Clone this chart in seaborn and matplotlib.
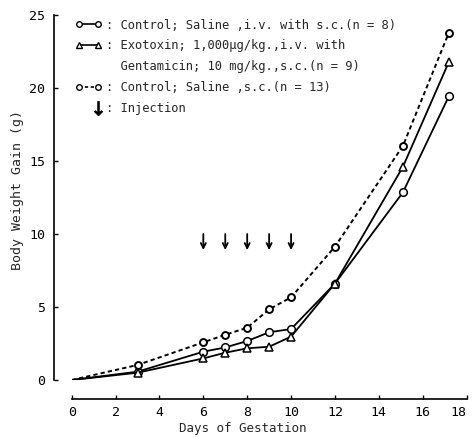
import matplotlib
matplotlib.use("Agg")
import matplotlib.pyplot as plt
from matplotlib.lines import Line2D
import seaborn as sns
import pandas as pd

# days of gestation and body weight gain (g)
days_iv = [0, 3, 6, 7, 8, 9, 10, 12, 15.1, 17.2]
gain_control_iv = [0, 0.57, 1.94, 2.23, 2.67, 3.27, 3.49, 6.6, 12.85, 19.45]

days_exo = [0, 3, 6, 7, 8, 9, 10, 12, 15.1, 17.2]
gain_exotoxin = [0, 0.5, 1.48, 1.87, 2.17, 2.28, 2.97, 6.6, 14.6, 21.8]

days_sc = [0, 3, 6, 7, 8, 9, 10, 12, 15.1, 17.2]
gain_control_sc = [0, 1.03, 2.58, 3.1, 3.58, 4.84, 5.66, 9.13, 16.03, 23.8]

injection_days = [6, 7, 8, 9, 10]
x_ticks = [0, 2, 4, 6, 8, 10, 12, 14, 16, 18]
y_ticks = [0, 5, 10, 15, 20, 25]

sns.set_style("ticks")
plt.rcParams['font.family'] = ['DejaVu Sans Mono', 'DejaVu Sans']

fig = plt.figure(figsize=(4.72, 4.38), dpi=100)
ax = fig.add_axes([0.152, 0.1324, 0.841, 0.8334])

df_iv = pd.DataFrame({'day': days_iv, 'gain': gain_control_iv})
df_exo = pd.DataFrame({'day': days_exo, 'gain': gain_exotoxin})
df_sc = pd.DataFrame({'day': days_sc, 'gain': gain_control_sc})

sns.lineplot(data=df_iv, x='day', y='gain', ax=ax, color='black', lw=1.3,
             marker='o', markersize=5.5, markerfacecolor='white',
             markeredgecolor='black', markeredgewidth=1.1,
             markevery=list(range(1, len(days_iv))))
sns.lineplot(data=df_exo, x='day', y='gain', ax=ax, color='black', lw=1.3,
             marker='^', markersize=6, markerfacecolor='white',
             markeredgecolor='black', markeredgewidth=1.1,
             markevery=list(range(1, len(days_exo))))
sns.lineplot(data=df_sc, x='day', y='gain', ax=ax, color='black', lw=1.4,
             linestyle=(0, (2.2, 1.6)),
             marker='o', markersize=5, markerfacecolor='white',
             markeredgecolor='black', markeredgewidth=1.4,
             markevery=list(range(1, len(days_sc))))

# injection arrows
for d in injection_days:
    ax.annotate('', xy=(d, 8.9), xytext=(d, 10.0),
                arrowprops=dict(arrowstyle='->', color='black', lw=1.3,
                                shrinkA=0, shrinkB=0, mutation_scale=9))

ax.set_xlim(0, 18.1)
ax.set_ylim(0, 25)
sns.despine(ax=ax)
ax.spines['left'].set_position(('outward', 13))
ax.spines['bottom'].set_position(('outward', 14))
ax.spines['bottom'].set_bounds(0, 18)
ax.spines['left'].set_bounds(0, 25)
for s in ['left', 'bottom']:
    ax.spines[s].set_linewidth(1.2)
    ax.spines[s].set_color('black')

ax.set_xticks(x_ticks)
ax.set_yticks(y_ticks)
ax.tick_params(direction='in', length=3, width=1, labelsize=9.5, colors='black')
ax.tick_params(axis='x', pad=5)
ax.tick_params(axis='y', pad=6)
ax.xaxis.get_major_ticks()[-1].label1.set_horizontalalignment('right')

ax.set_xlabel('Days of Gestation', fontsize=9)
ax.set_ylabel('Body Weight Gain (g)', fontsize=9.5)
ax.xaxis.set_label_coords(0.43, -0.115)
ax.yaxis.set_label_coords(-0.12, 0.52)

handles = [
    Line2D([], [], color='black', lw=1.2, marker='o', markersize=4,
           markerfacecolor='white', markeredgecolor='black'),
    Line2D([], [], color='black', lw=1.2, marker='^', markersize=4.5,
           markerfacecolor='white', markeredgecolor='black'),
    Line2D([], [], color='none'),
    Line2D([], [], color='black', lw=1.2, linestyle=(0, (2, 1.5)), marker='o',
           markersize=4, markerfacecolor='white', markeredgecolor='black'),
    Line2D([], [], color='none', marker='$\\downarrow$', markersize=10,
           markerfacecolor='black', markeredgecolor='black', markeredgewidth=0.6),
]
labels = [
    ': Control; Saline ,i.v. with s.c.(n = 8)',
    ': Exotoxin; 1,000µg/kg.,i.v. with',
    '  Gentamicin; 10 mg/kg.,s.c.(n = 9)',
    ': Control; Saline ,s.c.(n = 13)',
    ': Injection',
]
leg = ax.legend(handles, labels, loc='upper left', bbox_to_anchor=(-0.01, 1.01),
                frameon=False, fontsize=8.7, numpoints=2, handlelength=2.2,
                handletextpad=0.35, labelspacing=0.65, borderaxespad=0.2)
leg.legend_handles[4].set_markevery([1])

fig.savefig('out.png', dpi=100)
